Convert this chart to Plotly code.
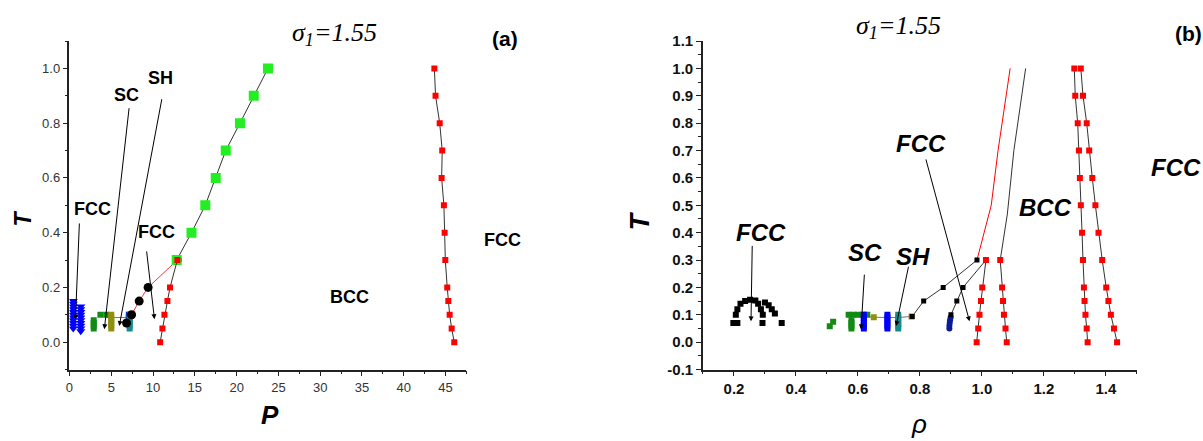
import plotly.graph_objects as go

W, H = 1203, 441

# ---------------- Panel (a): T vs P ----------------
p_green = [12.83, 14.6, 16.25, 17.5, 18.7, 20.4, 22.05, 23.75]
t_green = [0.3, 0.4, 0.5, 0.6, 0.7, 0.8, 0.9, 1.0]

p_red_hi = [43.66, 43.8, 44.3, 44.6, 44.53, 44.8, 44.89, 44.97, 45.2, 45.33, 45.49, 45.73, 46.04]
t_red_hi = [1.0, 0.9, 0.8, 0.7, 0.6, 0.5, 0.4, 0.3, 0.2, 0.15, 0.1, 0.05, 0.0]

p_red_lo = [10.85, 11.12, 11.36, 11.72, 12.03, 12.91]
t_red_lo = [0.0, 0.05, 0.1, 0.15, 0.2, 0.3]

p_black = [6.83, 7.43, 8.34, 9.41, 12.91]
t_black = [0.07, 0.1, 0.15, 0.2, 0.3]

p_redline = [7.43, 8.34, 9.41, 12.91]
t_redline = [0.1, 0.15, 0.2, 0.3]

p_blue = [0.45, 0.45, 0.45, 0.45, 0.45, 0.45, 0.45, 0.45, 0.45, 0.45, 0.45,
          1.35, 1.35, 1.35, 1.35, 1.35, 1.35, 1.35, 1.35, 1.35, 1.35]
t_blue = [0.05, 0.06, 0.07, 0.08, 0.09, 0.10, 0.11, 0.12, 0.13, 0.14, 0.15,
          0.04, 0.05, 0.06, 0.07, 0.08, 0.09, 0.10, 0.11, 0.12, 0.13]

p_dkgreen = [2.9, 2.9, 2.9, 2.9, 3.7, 4.4]
t_dkgreen = [0.05, 0.06, 0.07, 0.08, 0.10, 0.10]

p_olive = [5.0, 5.0, 5.0, 5.0, 5.0, 5.0]
t_olive = [0.05, 0.06, 0.07, 0.08, 0.09, 0.10]

p_teal = [7.2, 7.2, 7.2, 7.2, 7.2, 7.2]
t_teal = [0.05, 0.06, 0.07, 0.08, 0.09, 0.10]

p_smallblue = [7.1, 7.1]
t_smallblue = [0.09, 0.10]

p_grayline = [4.4, 5.0, 7.2]
t_grayline = [0.09, 0.09, 0.09]

# ---------------- Panel (b): T vs rho ----------------
t13 = [1.0, 0.9, 0.8, 0.7, 0.6, 0.5, 0.4, 0.3, 0.2, 0.15, 0.1, 0.05, 0.0]
rho_red_a = [1.298, 1.301, 1.309, 1.313, 1.316, 1.319, 1.323, 1.326, 1.329, 1.331, 1.334, 1.338, 1.341]
rho_red_b = [1.319, 1.326, 1.338, 1.346, 1.356, 1.366, 1.376, 1.388, 1.401, 1.408, 1.416, 1.426, 1.436]

t6 = [0.3, 0.2, 0.15, 0.1, 0.05, 0.0]
rho_red_c = [1.013, 1.001, 0.997, 0.992, 0.988, 0.983]
rho_red_d = [1.059, 1.065, 1.068, 1.071, 1.076, 1.080]

rho_redcurve = [0.984, 1.030, 1.052, 1.091]
t_redcurve = [0.3, 0.5, 0.7, 1.0]

rho_blackcurve = [1.059, 1.082, 1.103, 1.118, 1.141]
t_blackcurve = [0.3, 0.468, 0.7, 0.819, 1.0]

rho_chain1 = [0.775, 0.812, 0.875, 0.984]
t_chain1 = [0.094, 0.15, 0.2, 0.3]
rho_chain2 = [0.900, 0.919, 0.939, 1.013]
t_chain2 = [0.1, 0.15, 0.2, 0.3]

rho_arch = [0.198, 0.211, 0.292, 0.354, 0.206, 0.211, 0.221, 0.236, 0.252, 0.269,
            0.278, 0.287, 0.293, 0.300, 0.312, 0.322, 0.332]
t_arch = [0.07, 0.07, 0.07, 0.07, 0.10, 0.12, 0.14, 0.15, 0.155, 0.152,
          0.14, 0.12, 0.10, 0.145, 0.135, 0.12, 0.105]

rho_green = [0.509, 0.520, 0.570, 0.585, 0.600, 0.615, 0.630, 0.579, 0.579, 0.579, 0.579]
t_green_b = [0.058, 0.075, 0.10, 0.10, 0.10, 0.10, 0.10, 0.05, 0.06, 0.07, 0.08]

rho_blue = [0.619, 0.619, 0.619, 0.619, 0.619, 0.619, 0.695, 0.695, 0.695, 0.695, 0.695, 0.695]
t_blue_b = [0.05, 0.06, 0.07, 0.08, 0.09, 0.10, 0.05, 0.06, 0.07, 0.08, 0.09, 0.10]

rho_teal = [0.730, 0.730, 0.730, 0.730, 0.730, 0.730]
t_teal_b = [0.05, 0.06, 0.07, 0.08, 0.09, 0.10]

rho_olive = [0.651, 0.773]
t_olive_b = [0.091, 0.094]

rho_gray = [0.58, 0.651, 0.695, 0.730, 0.773]
t_gray = [0.10, 0.091, 0.09, 0.09, 0.094]

rho_navy = [0.895, 0.895, 0.896, 0.897, 0.899]
t_navy = [0.05, 0.06, 0.07, 0.08, 0.09]

LINE = "#333333"
RED = "#ff0000"
BGREEN = "#22ee22"
DKGREEN = "#138a13"
OLIVE = "#8f8f10"
TEAL = "#148a8a"
BLUE = "#0000ff"
NAVY = "#0a1a9a"

fig = go.Figure()


def add(x, y, ax, mode="markers", color="black", size=6, symbol="square", lw=1, lc=LINE, dash=None):
    xa, ya = ("x", "y") if ax == 1 else ("x2", "y2")
    kw = dict(x=x, y=y, xaxis=xa, yaxis=ya, mode=mode, showlegend=False, hoverinfo="skip")
    if "markers" in mode:
        kw["marker"] = dict(color=color, size=size, symbol=symbol, line=dict(width=0))
    if "lines" in mode:
        kw["line"] = dict(color=lc, width=lw, dash=dash)
    fig.add_trace(go.Scatter(**kw))


# panel (a)
add(p_grayline, t_grayline, 1, mode="lines", lc="#777777")
add(p_redline, t_redline, 1, mode="lines", lc=RED, lw=0.8)
add(p_blue, t_blue, 1, color=BLUE, size=8, symbol="triangle-down")
add(p_dkgreen, t_dkgreen, 1, color=DKGREEN, size=6)
add(p_smallblue, t_smallblue, 1, color=BLUE, size=6)
add(p_olive, t_olive, 1, color=OLIVE, size=6)
add(p_teal, t_teal, 1, color=TEAL, size=6)
add(p_black, t_black, 1, color="black", size=9, symbol="circle")
add(p_green, t_green, 1, mode="lines+markers", color=BGREEN, size=10)
add(p_red_lo, t_red_lo, 1, mode="lines+markers", color=RED, size=6)
add(p_red_hi, t_red_hi, 1, mode="lines+markers", color=RED, size=6)

# panel (b)
add(rho_gray, t_gray, 2, mode="lines", lc="#777777")
add(rho_redcurve, t_redcurve, 2, mode="lines", lc=RED)
add(rho_blackcurve, t_blackcurve, 2, mode="lines", lc=LINE)
add(rho_chain1, t_chain1, 2, mode="lines", lc=LINE)
add(rho_chain2, t_chain2, 2, mode="lines", lc=LINE)
add(rho_arch, t_arch, 2, color="black", size=6)
add(rho_green, t_green_b, 2, color=DKGREEN, size=6)
add(rho_blue, t_blue_b, 2, color=BLUE, size=6)
add(rho_teal, t_teal_b, 2, color=TEAL, size=6)
add(rho_olive, t_olive_b, 2, color=OLIVE, size=6)
add(rho_navy, t_navy, 2, color=NAVY, size=6, symbol="circle")
add(rho_chain1, t_chain1, 2, color="black", size=5)
add(rho_chain2[:3], t_chain2[:3], 2, color="black", size=5)
add(rho_red_c, t6, 2, mode="lines+markers", color=RED, size=6)
add(rho_red_d, t6, 2, mode="lines+markers", color=RED, size=6)
add(rho_red_a, t13, 2, mode="lines+markers", color=RED, size=6)
add(rho_red_b, t13, 2, mode="lines+markers", color=RED, size=6)

SANS = "Liberation Sans, Arial, sans-serif"
SERIF = "Liberation Serif, Times New Roman, serif"

ann = []


def ptext(px, py, text, size, family=SANS, color="black", angle=0):
    ann.append(dict(x=px / W, y=1 - py / H, xref="paper", yref="paper", text=text,
                    showarrow=False, xanchor="center", yanchor="middle", textangle=angle,
                    font=dict(family=family, size=size, color=color)))


def arrow(ax_, x0, y0, x1, y1):
    xr, yr = ("x", "y") if ax_ == 1 else ("x2", "y2")
    ann.append(dict(x=x1, y=y1, ax=x0, ay=y0, xref=xr, yref=yr, axref=xr, ayref=yr,
                    text="", showarrow=True, arrowhead=2, arrowsize=1, arrowwidth=1,
                    arrowcolor="black", standoff=0, startstandoff=0))


# titles
ptext(332, 26, "<i>σ<sub>1</sub>=1.55</i>", 26, SERIF)
ptext(897, 19, "<i>σ<sub>1</sub>=1.55</i>", 26, SERIF)
ptext(503, 31, "<b>(a)</b>", 21)
ptext(1188, 26, "<b>(b)</b>", 21)

# axis titles
ptext(19, 218, "<b><i>T</i></b>", 23, angle=-90)
ptext(267, 422, "<b><i>P</i></b>", 26)
ptext(638, 220, "<b><i>T</i></b>", 27, angle=-90)
ptext(918, 432, "<i>ρ</i>", 26)

# panel (a) labels
for (px, py, t) in [(89, 208, "FCC"), (123, 89, "SC"), (157, 72, "SH"),
                    (153, 232, "FCC"), (347, 300, "BCC"), (500, 240, "FCC")]:
    ptext(px, py, "<b>%s</b>" % t, 18)

# panel (b) labels
for (px, py, t) in [(760, 232, "FCC"), (864, 253, "SC"), (912, 257, "SH"),
                    (920, 140, "FCC"), (1045, 206, "BCC"), (1176, 165, "FCC")]:
    ptext(px, py, "<b><i>%s</i></b>" % t, 24)

# arrows
arrow(1, 1.19, 0.439, 0.715, 0.082)
arrow(1, 7.15, 0.860, 4.17, 0.047)
arrow(1, 11.08, 0.893, 5.96, 0.059)
arrow(1, 9.21, 0.337, 10.17, 0.084)
arrow(2, 0.259, 0.357, 0.255, 0.076)
arrow(2, 0.621, 0.252, 0.610, 0.047)
arrow(2, 0.764, 0.281, 0.723, 0.059)
arrow(2, 0.818, 0.673, 0.960, 0.076)

ydom = [1 - 375 / H, 1 - 33.3 / H]
axis_common = dict(showline=True, linecolor="#222222", linewidth=1.5, ticks="outside",
                   ticklen=5, tickwidth=1.2, tickcolor="#222222", showgrid=False,
                   zeroline=False, mirror=False)

fig.update_layout(
    width=W, height=H, margin=dict(l=0, r=0, t=0, b=0),
    paper_bgcolor="white", plot_bgcolor="white", showlegend=False,
    annotations=ann,
    xaxis=dict(domain=[65.7 / W, 464 / W], range=[0, 47.5], anchor="y",
               tickvals=[0, 5, 10, 15, 20, 25, 30, 35, 40, 45],
               ticktext=["0", "5", "10", "15", "20", "25", "30", "35", "40", "45"],
               minor=dict(ticks="outside", ticklen=3, dtick=2.5, tick0=0, tickcolor="#222222"),
               tickfont=dict(family=SANS, size=13, color="#333333"), **axis_common),
    yaxis=dict(domain=ydom, range=[-0.1, 1.1], anchor="x",
               tickvals=[0, 0.2, 0.4, 0.6, 0.8, 1.0],
               ticktext=["0.0", "0.2", "0.4", "0.6", "0.8", "1.0"],
               minor=dict(ticks="outside", ticklen=3, dtick=0.1, tick0=0, tickcolor="#222222"),
               tickfont=dict(family=SANS, size=13, color="#333333"), **axis_common),
    xaxis2=dict(domain=[701.3 / W, 1136.7 / W], range=[0.1, 1.5], anchor="y2",
                tickvals=[0.2, 0.4, 0.6, 0.8, 1.0, 1.2, 1.4],
                ticktext=["0.2", "0.4", "0.6", "0.8", "1.0", "1.2", "1.4"],
                minor=dict(ticks="outside", ticklen=3, dtick=0.1, tick0=0.1, tickcolor="#222222"),
                tickfont=dict(family=SANS, size=15, color="#111111", weight="bold"), **axis_common),
    yaxis2=dict(domain=ydom, range=[-0.1, 1.1], anchor="x2",
                tickvals=[-0.1, 0, 0.1, 0.2, 0.3, 0.4, 0.5, 0.6, 0.7, 0.8, 0.9, 1.0, 1.1],
                ticktext=["-0.1", "0.0", "0.1", "0.2", "0.3", "0.4", "0.5", "0.6", "0.7",
                          "0.8", "0.9", "1.0", "1.1"],
                minor=dict(ticks="outside", ticklen=3, dtick=0.05, tick0=0, tickcolor="#222222"),
                tickfont=dict(family=SANS, size=15, color="#111111", weight="bold"), **axis_common),
)

fig.write_html("out.html")
